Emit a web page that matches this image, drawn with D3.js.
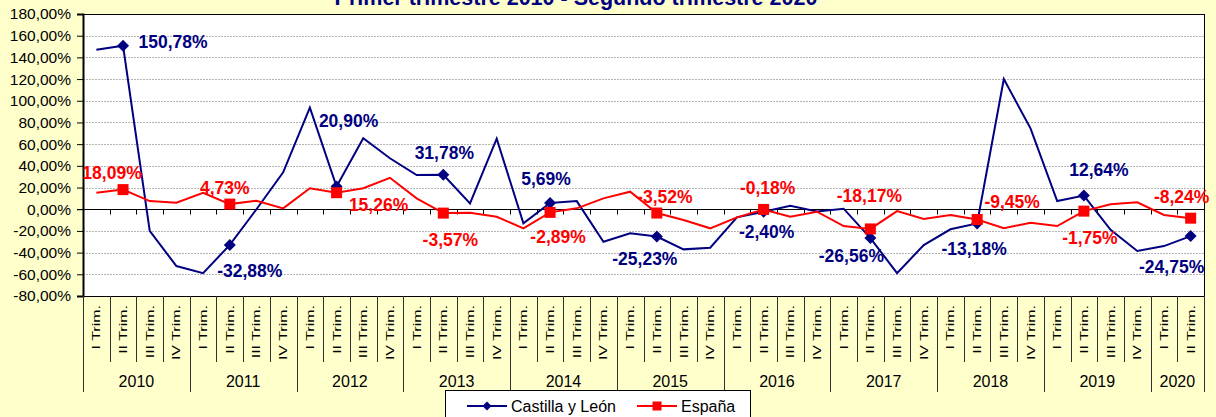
<!DOCTYPE html>
<html>
<head>
<meta charset="utf-8">
<script src="https://cdn.jsdelivr.net/npm/d3@7"></script>
<style>
  body { margin: 0; background: #FFFFCC; }
  svg { display: block; font-family: "Liberation Sans", Arial, sans-serif; }
</style>
</head>
<body>
<div id="chart"></div>
<script>
// data
var years = ["2010", "2011", "2012", "2013", "2014", "2015", "2016", "2017", "2018", "2019", "2020"];
var quarterNames = ["I Trim.", "II Trim.", "III Trim.", "IV Trim."];
var quartersPerYear = [4, 4, 4, 4, 4, 4, 4, 4, 4, 4, 2];
var yTicks = [-80, -60, -40, -20, 0, 20, 40, 60, 80, 100, 120, 140, 160, 180];

var castillaLeon = [147, 150.78, -20, -52.4, -59, -32.88, 0, 34, 93.6, 20.90, 65.4, 47,
    31.5, 31.78, 5.4, 65, -13, 5.69, 7.5, -30, -22.2, -25.23, -37, -35.5,
    -7.5, -2.40, 3.2, -2, 0.5, -26.56, -59, -33, -18.5, -13.18, 120, 74.6,
    7.5, 12.64, -19, -38.5, -34, -24.75];
var espana = [15.2, 18.09, 7.5, 6, 15.2, 4.73, 7.8, 0.8, 19.3, 15.26, 19.3, 29,
    10, -3.57, -3.2, -6.9, -17.6, -2.89, 0.8, 10, 16.2, -3.52, -10, -17.6,
    -7.5, -0.18, -6.9, -2.3, -15.5, -18.17, -1.7, -9, -5.3, -9.45, -17.6, -12.4,
    -15.5, -1.75, 4.5, 6.4, -5.3, -8.24];

// labelled points are the second quarter of each year
var labelIdx = [1, 5, 9, 13, 17, 21, 25, 29, 33, 37, 41];
// label offsets from the point (layout only)
var cylOffsets = [[50, -4], [20, 26], [12, -66], [1, -22], [-4, -24], [-12, 22], [3, 20], [-19, 18], [-3, 25], [15, -26], [-19, 31]];
var espOffsets = [[-11, -17], [-5, -16], [42, 12], [7, 27], [8, 24], [8, -16], [4, -22], [-1, -33], [35, -18], [6, 27], [-9, -21]];

var categories = [];
years.forEach(function(y, yi){
    for(var q=0; q<quartersPerYear[yi]; q++){
        categories.push({year: y, quarter: quarterNames[q], id: y + "-" + q});
    }
});

var W = 1216, H = 417;
var plot = {left: 83, right: 1204, top: 14, bottom: 296};
var navy = "#000080", red = "#FF0000";

// spanish number format, plain hyphen for minus
var locale = d3.formatLocale({decimal: ",", thousands: ".", grouping: [3], currency: ["", " €"], minus: "-"});
var f2 = locale.format(".2f");
function fmt(v){ return f2(v) + "%"; }

var svg = d3.select("#chart").append("svg")
    .attr("width", W)
    .attr("height", H);

svg.append("rect").attr("width", W).attr("height", H).attr("fill", "#FFFFCC");

var x = d3.scaleBand()
    .domain(categories.map(function(d){ return d.id; }))
    .range([plot.left, plot.right])
    .paddingInner(0).paddingOuter(0);
var bw = x.bandwidth();
function cx(i){ return x(categories[i].id) + bw/2; }

var y = d3.scaleLinear().domain([-80, 180]).range([plot.bottom, plot.top]);

// plot area
svg.append("rect")
    .attr("x", plot.left).attr("y", plot.top)
    .attr("width", plot.right - plot.left).attr("height", plot.bottom - plot.top)
    .attr("fill", "white");

// gridlines
svg.append("g").selectAll("line")
    .data(yTicks.filter(function(t){ return t != 0 && t != 180 && t != -80; }))
    .enter().append("line")
    .attr("x1", plot.left).attr("x2", plot.right)
    .attr("y1", function(d){ return Math.round(y(d)) + 0.5; })
    .attr("y2", function(d){ return Math.round(y(d)) + 0.5; })
    .attr("stroke", "#b4b4b4")
    .attr("stroke-dasharray", "2,1");

svg.append("rect")
    .attr("x", plot.left + 0.5).attr("y", plot.top + 0.5)
    .attr("width", plot.right - plot.left).attr("height", plot.bottom - plot.top)
    .attr("fill", "none").attr("stroke", "#000");

// y axis
var yAxis = d3.axisLeft(y)
    .tickValues(yTicks)
    .tickSize(6)
    .tickPadding(6)
    .tickFormat(fmt);
var yg = svg.append("g")
    .attr("transform", "translate(" + plot.left + ",0)")
    .call(yAxis);
yg.select(".domain").attr("stroke", "#000").attr("stroke-width", 2);
yg.selectAll("text").attr("font-size", "15.5px").attr("fill", "#000")
    .attr("font-family", "Liberation Sans, Arial, sans-serif");

// zero line with small ticks
var zy = Math.round(y(0)) + 0.5;
svg.append("line")
    .attr("x1", plot.left - 6).attr("x2", plot.right)
    .attr("y1", zy).attr("y2", zy)
    .attr("stroke", "#000");
svg.append("g").selectAll("line")
    .data(categories.slice(1))
    .enter().append("line")
    .attr("x1", function(d){ return Math.round(x(d.id)) + 0.5; })
    .attr("x2", function(d){ return Math.round(x(d.id)) + 0.5; })
    .attr("y1", zy).attr("y2", zy + 5)
    .attr("stroke", "#000");

// category axis below plot (quarters and years)
var catG = svg.append("g");
catG.selectAll("line.q")
    .data(categories.concat([{id: "end"}]))
    .enter().append("line")
    .attr("class", "q")
    .attr("x1", function(d, i){ return Math.round(plot.left + i*bw) + 0.5; })
    .attr("x2", function(d, i){ return Math.round(plot.left + i*bw) + 0.5; })
    .attr("y1", plot.bottom)
    .attr("y2", function(d, i){
        var isYear = (i == categories.length) || (i == 0) || (categories[i].quarter == "I Trim.");
        return isYear ? 392 : 362;
    })
    .attr("stroke", "#303030");

catG.selectAll("text.q")
    .data(categories)
    .enter().append("text")
    .attr("class", "q")
    .attr("transform", function(d, i){
        return "translate(" + (cx(i) + 4) + ",305) rotate(-90) scale(1,0.7)";
    })
    .attr("text-anchor", "end")
    .attr("font-size", "16px")
    .attr("fill", "#000")
    .text(function(d){ return d.quarter; });

var start = 0;
years.forEach(function(yr, yi){
    var n = quartersPerYear[yi];
    var mid = plot.left + (start + n/2)*bw;
    catG.append("text")
        .attr("x", mid).attr("y", 386.5)
        .attr("text-anchor", "middle")
        .attr("font-size", "16px")
        .attr("fill", "#000")
        .text(yr);
    start += n;
});

// lines
var line = d3.line()
    .x(function(d, i){ return cx(i); })
    .y(function(d){ return y(d); });

svg.append("path").datum(castillaLeon)
    .attr("d", line).attr("fill", "none")
    .attr("stroke", navy).attr("stroke-width", 2);
svg.append("path").datum(espana)
    .attr("d", line).attr("fill", "none")
    .attr("stroke", red).attr("stroke-width", 2);

// markers
svg.append("g").selectAll("path")
    .data(labelIdx)
    .enter().append("path")
    .attr("d", "M0,-6L6,0L0,6L-6,0Z")
    .attr("transform", function(i){ return "translate(" + cx(i) + "," + y(castillaLeon[i]) + ")"; })
    .attr("fill", navy);
svg.append("g").selectAll("rect")
    .data(labelIdx)
    .enter().append("rect")
    .attr("x", function(i){ return cx(i) - 5.5; })
    .attr("y", function(i){ return y(espana[i]) - 5.5; })
    .attr("width", 11).attr("height", 11)
    .attr("fill", red);

// data labels
svg.append("g").selectAll("text")
    .data(labelIdx)
    .enter().append("text")
    .attr("x", function(i, k){ return cx(i) + cylOffsets[k][0]; })
    .attr("y", function(i, k){ return y(castillaLeon[i]) + cylOffsets[k][1]; })
    .attr("dy", "0.36em")
    .attr("text-anchor", "middle")
    .attr("font-size", "17.5px").attr("font-weight", "bold")
    .attr("fill", navy)
    .text(function(i){ return fmt(castillaLeon[i]); });
svg.append("g").selectAll("text")
    .data(labelIdx)
    .enter().append("text")
    .attr("x", function(i, k){ return cx(i) + espOffsets[k][0]; })
    .attr("y", function(i, k){ return y(espana[i]) + espOffsets[k][1]; })
    .attr("dy", "0.36em")
    .attr("text-anchor", "middle")
    .attr("font-size", "17.5px").attr("font-weight", "bold")
    .attr("fill", red)
    .text(function(i){ return fmt(espana[i]); });

// title, cut at the top edge like the original
svg.append("text")
    .attr("x", 576).attr("y", 5)
    .attr("text-anchor", "middle")
    .attr("font-size", "21.5px").attr("font-weight", "bold")
    .attr("fill", navy)
    .text("Primer trimestre 2010 - Segundo trimestre 2020");

// legend
var lg = svg.append("g");
lg.append("rect")
    .attr("x", 445.5).attr("y", 390.5)
    .attr("width", 305).attr("height", 40)
    .attr("fill", "white").attr("stroke", "#000");
lg.append("line").attr("x1", 467).attr("x2", 507).attr("y1", 406).attr("y2", 406)
    .attr("stroke", navy).attr("stroke-width", 2);
lg.append("path").attr("d", "M0,-4.5L4.5,0L0,4.5L-4.5,0Z")
    .attr("transform", "translate(487,406)").attr("fill", navy);
lg.append("text").attr("x", 511).attr("y", 411.5)
    .attr("font-size", "16px").attr("fill", "#000").text("Castilla y León");
lg.append("line").attr("x1", 637).attr("x2", 677).attr("y1", 406).attr("y2", 406)
    .attr("stroke", red).attr("stroke-width", 2);
lg.append("rect").attr("x", 652.5).attr("y", 401.5).attr("width", 9).attr("height", 9)
    .attr("fill", red);
lg.append("text").attr("x", 681).attr("y", 411.5)
    .attr("font-size", "16px").attr("fill", "#000").text("España");
</script>
</body>
</html>
